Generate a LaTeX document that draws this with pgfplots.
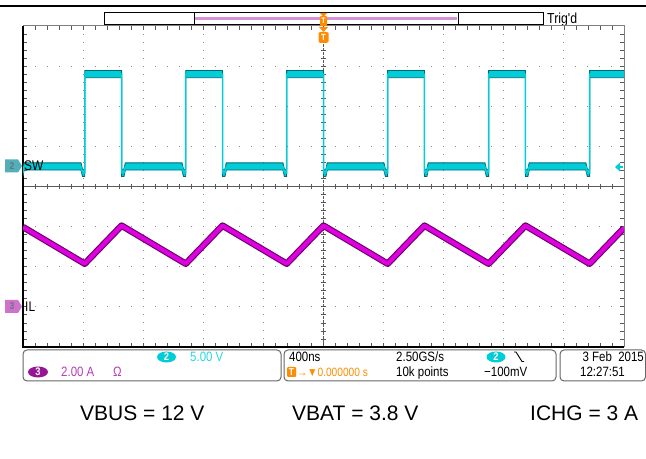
\documentclass[border=0pt]{standalone}
\usepackage{pgfplots}
\pgfplotsset{compat=1.18}
\usepackage{pgfplotstable}
\usepackage{fontspec}
\setmainfont{Liberation Sans}
\newfontfamily\scopefont[FakeStretch=0.85]{Liberation Sans}

\definecolor{swc}{RGB}{0,205,215}
\definecolor{swd}{RGB}{0,105,115}
\definecolor{ilc}{RGB}{222,0,222}
\definecolor{ild}{RGB}{105,0,105}
\definecolor{orng}{RGB}{255,140,0}
\definecolor{lav}{RGB}{215,145,215}
\definecolor{cytext}{RGB}{40,215,225}
\definecolor{mgtext}{RGB}{185,60,185}
\definecolor{ch3fill}{RGB}{150,20,150}
\definecolor{ch2mk}{RGB}{80,175,185}
\definecolor{ch3mk}{RGB}{205,115,205}
\definecolor{gridgray}{RGB}{140,140,140}

% SW (channel 2): time in ns, volts
\pgfplotstableread{
t v
-2000 -0.8
-1993 0
-1614 0
-1604 -0.8
-1589 -0.8
-1589 11.5
-1344 11.5
-1344 -0.8
-1328 -0.8
-1319 0
-942 0
-932 -0.8
-917 -0.8
-917 11.5
-672 11.5
-672 -0.8
-656 -0.8
-647 0
-270 0
-260 -0.8
-245 -0.8
-245 11.5
0 11.5
0 -0.8
16 -0.8
25 0
402 0
412 -0.8
427 -0.8
427 11.5
672 11.5
672 -0.8
688 -0.8
697 0
1074 0
1084 -0.8
1099 -0.8
1099 11.5
1344 11.5
1344 -0.8
1360 -0.8
1369 0
1746 0
1756 -0.8
1771 -0.8
1771 11.5
2000 11.5
}\swdata

% SW persistence band: same trace forward (s=+1) and backward (s=-1)
\pgfplotstableread{
t v s
-2000 -0.8 1
-1993 0 1
-1614 0 1
-1604 -0.8 1
-1589 -0.8 1
-1589 11.5 1
-1344 11.5 1
-1344 -0.8 1
-1328 -0.8 1
-1319 0 1
-942 0 1
-932 -0.8 1
-917 -0.8 1
-917 11.5 1
-672 11.5 1
-672 -0.8 1
-656 -0.8 1
-647 0 1
-270 0 1
-260 -0.8 1
-245 -0.8 1
-245 11.5 1
0 11.5 1
0 -0.8 1
16 -0.8 1
25 0 1
402 0 1
412 -0.8 1
427 -0.8 1
427 11.5 1
672 11.5 1
672 -0.8 1
688 -0.8 1
697 0 1
1074 0 1
1084 -0.8 1
1099 -0.8 1
1099 11.5 1
1344 11.5 1
1344 -0.8 1
1360 -0.8 1
1369 0 1
1746 0 1
1756 -0.8 1
1771 -0.8 1
1771 11.5 1
2000 11.5 1
2000 11.5 -1
1771 11.5 -1
1771 -0.8 -1
1756 -0.8 -1
1746 0 -1
1369 0 -1
1360 -0.8 -1
1344 -0.8 -1
1344 11.5 -1
1099 11.5 -1
1099 -0.8 -1
1084 -0.8 -1
1074 0 -1
697 0 -1
688 -0.8 -1
672 -0.8 -1
672 11.5 -1
427 11.5 -1
427 -0.8 -1
412 -0.8 -1
402 0 -1
25 0 -1
16 -0.8 -1
0 -0.8 -1
0 11.5 -1
-245 11.5 -1
-245 -0.8 -1
-260 -0.8 -1
-270 0 -1
-647 0 -1
-656 -0.8 -1
-672 -0.8 -1
-672 11.5 -1
-917 11.5 -1
-917 -0.8 -1
-932 -0.8 -1
-942 0 -1
-1319 0 -1
-1328 -0.8 -1
-1344 -0.8 -1
-1344 11.5 -1
-1589 11.5 -1
-1589 -0.8 -1
-1604 -0.8 -1
-1614 0 -1
-1993 0 -1
-2000 -0.8 -1
}\swband

% IL (channel 3): time in ns, amperes
\pgfplotstableread{
t i
-2000 3.98
-1589 2.15
-1344 4.05
-917 2.15
-672 4.05
-245 2.15
0 4.05
427 2.15
672 4.05
1099 2.15
1344 4.05
1771 2.15
2000 3.93
}\ildata

\begin{document}
\begin{tikzpicture}[x=1bp,y=1bp]
\useasboundingbox (0,0) rectangle (646,459);
% top line
\draw[line width=1.5bp] (0,453) -- (646,453);
% top record bar
\draw[line width=1bp] (104,434) rectangle (543,446);
\draw[line width=1bp] (194,434) -- (194,446);
\draw[line width=1bp] (458,434) -- (458,446);
\draw[lav, line width=3bp] (195,440.5) -- (457,440.5);
\node[anchor=base west, inner sep=0, font=\scopefont\fontsize{14.5bp}{15bp}\selectfont] at (547,435.5) {Trig'd};

% graticule dots
\foreach \d in {-4,-3,-2,-1,1,2,3,4}{
  \foreach \j in {-19,...,19}{
    \fill[gridgray] ({323.5+60.1*\d-0.5},{272.5+8.025*\j-0.5}) rectangle +(1,1);
  }}
\foreach \e in {-3,-2,-1,1,2,3}{
  \foreach \j in {-24,...,24}{
    \fill[gridgray] ({323.5+12.02*\j-0.5},{272.5+40.125*\e-0.5}) rectangle +(1,1);
  }}
% centre lines
\draw[black!65, line width=0.9bp] (23,272.5) -- (624,272.5);
\draw[black!65, line width=0.9bp, dash pattern=on 3bp off 1bp] (323.5,112) -- (323.5,433);
\foreach \j in {-24,...,24}{
  \draw[black!65, line width=0.8bp] ({323.5+12.02*\j},270) -- ++(0,5);
  \draw[black!65, line width=0.8bp] ({323.5+12.02*\j},112) -- ++(0,4);
  \draw[black!65, line width=0.8bp] ({323.5+12.02*\j},433) -- ++(0,-4);
}
\foreach \j in {-19,...,19}{
  \draw[black!65, line width=0.8bp] (321,{272.5+8.025*\j}) -- ++(5,0);
  \draw[black!65, line width=0.8bp] (23,{272.5+8.025*\j}) -- ++(4,0);
  \draw[black!65, line width=0.8bp] (624,{272.5+8.025*\j}) -- ++(-4,0);
}
\draw[gray, line width=1bp] (23,112) rectangle (624,433);
\draw[black, line width=1.6bp] (23,433) -- (23,112) -- (624,112);

% SW trace
\begin{axis}[at={(23bp,112bp)}, anchor=south west, scale only axis,
  width=601bp, height=321bp, xmin=-2000, xmax=2000, ymin=-22.5, ymax=17.5,
  hide axis]
\addplot[fill=swc, draw=none] table[x=t, y expr=\thisrow{v}+0.45*\thisrow{s}] {\swband};
\addplot[swd, line width=0.9bp] table[x=t, y expr=\thisrow{v}+0.45] {\swdata};
\addplot[swd, line width=0.9bp] table[x=t, y expr=\thisrow{v}-0.45] {\swdata};
\addplot[swc, line width=1.5bp] table[x=t, y=v] {\swdata};
\end{axis}

% IL trace
\begin{axis}[at={(23bp,112bp)}, anchor=south west, scale only axis,
  width=601bp, height=321bp, xmin=-2000, xmax=2000, ymin=-2, ymax=14,
  hide axis]
\addplot[ild, line width=6.5bp, line join=round] table[x=t, y=i] {\ildata};
\addplot[ilc, line width=4.3bp, line join=round] table[x=t, y=i] {\ildata};
\end{axis}

% trigger markers
\fill[orng] (320,446) -- (327,446) -- (323.5,442) -- cycle;
\node[fill=orng, text=white, inner sep=0pt, rounded corners=1bp, minimum width=7bp, minimum height=10bp, font=\scopefont\bfseries\fontsize{8bp}{8bp}\selectfont] at (323.5,438) {T};
\fill[orng] (319,432) -- (328,432) -- (323.5,427) -- cycle;
\node[fill=orng, text=white, inner sep=0pt, rounded corners=1.5bp, minimum width=10bp, minimum height=11bp, font=\scopefont\bfseries\fontsize{9bp}{9bp}\selectfont] at (323.5,421.5) {T};
% trigger level arrow
\fill[swc] (615,292) -- (620,296.5) -- (620,287.5) -- cycle;
\draw[swc, line width=1.5bp] (619,292) -- (623,292);

% channel markers
\fill[ch2mk] (5,299.5) -- (18,299.5) -- (22,293) -- (18,286.5) -- (5,286.5) -- cycle;
\node[text=black!55, font=\scopefont\bfseries\fontsize{10bp}{10bp}\selectfont] at (12,293) {2};
\node[anchor=west, inner sep=0, font=\scopefont\fontsize{14bp}{14bp}\selectfont] at (24,293) {SW};
\fill[ch3mk] (5,159) -- (18,159) -- (22,152.5) -- (18,146) -- (5,146) -- cycle;
\node[text=black!55, font=\scopefont\bfseries\fontsize{10bp}{10bp}\selectfont] at (12,152.5) {3};
\node[anchor=west, inner sep=0, font=\scopefont\fontsize{14bp}{14bp}\selectfont] at (25,152.5) {IL};

% info boxes
\draw[black!60, line width=1bp, rounded corners=4bp] (23,78) rectangle (281,109);
\draw[black!60, line width=1bp, rounded corners=4bp] (284,78) rectangle (556,109);
\draw[black!60, line width=1bp, rounded corners=4bp] (560,78) rectangle (645.5,109);
\begin{scope}[every node/.style={inner sep=0, font=\scopefont\fontsize{13.5bp}{14bp}\selectfont}]
% box 1
\fill[swc] (166.5,102) ellipse (9.5bp and 5.5bp);
\node[text=white, font=\scopefont\bfseries\fontsize{11bp}{11bp}\selectfont] at (166.5,102) {2};
\node[anchor=base west, text=cytext] at (190,97.5) {5.00 V};
\fill[ch3fill] (38,87) ellipse (10bp and 5.5bp);
\node[text=white, font=\scopefont\bfseries\fontsize{11bp}{11bp}\selectfont] at (38,87) {3};
\node[anchor=base west, text=mgtext] at (61,82.5) {2.00 A};
\node[anchor=base west, text=mgtext] at (113,82.5) {Ω};
% box 2
\node[anchor=base west] at (289,97.5) {400ns};
\node[anchor=base west] at (396,97.5) {2.50GS/s};
\fill[swc] (496,102) ellipse (9.5bp and 5.5bp);
\node[text=white, font=\scopefont\bfseries\fontsize{11bp}{11bp}\selectfont] at (496,102) {2};
\draw[line width=0.9bp] (514,107) -- (516,107) -- (522,97.5) -- (524,97.5);
\node[fill=orng, text=white, minimum width=9bp, minimum height=10bp, rounded corners=1bp, font=\scopefont\bfseries\fontsize{10bp}{10bp}\selectfont] at (291.5,87) {T};
\node[anchor=base west, text=orng, font=\scopefont\fontsize{12bp}{12bp}\selectfont] at (297,82.5) {→▼0.000000 s};
\node[anchor=base west] at (396,82.5) {10k points};
\node[anchor=base west] at (484,82.5) {−100mV};
% box 3
\node[anchor=base east] at (644,97.5) {3 Feb\ \ 2015};
\node[anchor=base west] at (580,82.5) {12:27:51};
\end{scope}

% caption
\begin{scope}[every node/.style={anchor=base west, inner sep=0, font=\fontsize{21bp}{25bp}\selectfont}]
\node at (80,38) {VBUS = 12 V};
\node at (292,38) {VBAT = 3.8 V};
\node at (530,38) {ICHG = 3 A};
\end{scope}
\end{tikzpicture}
\end{document}
